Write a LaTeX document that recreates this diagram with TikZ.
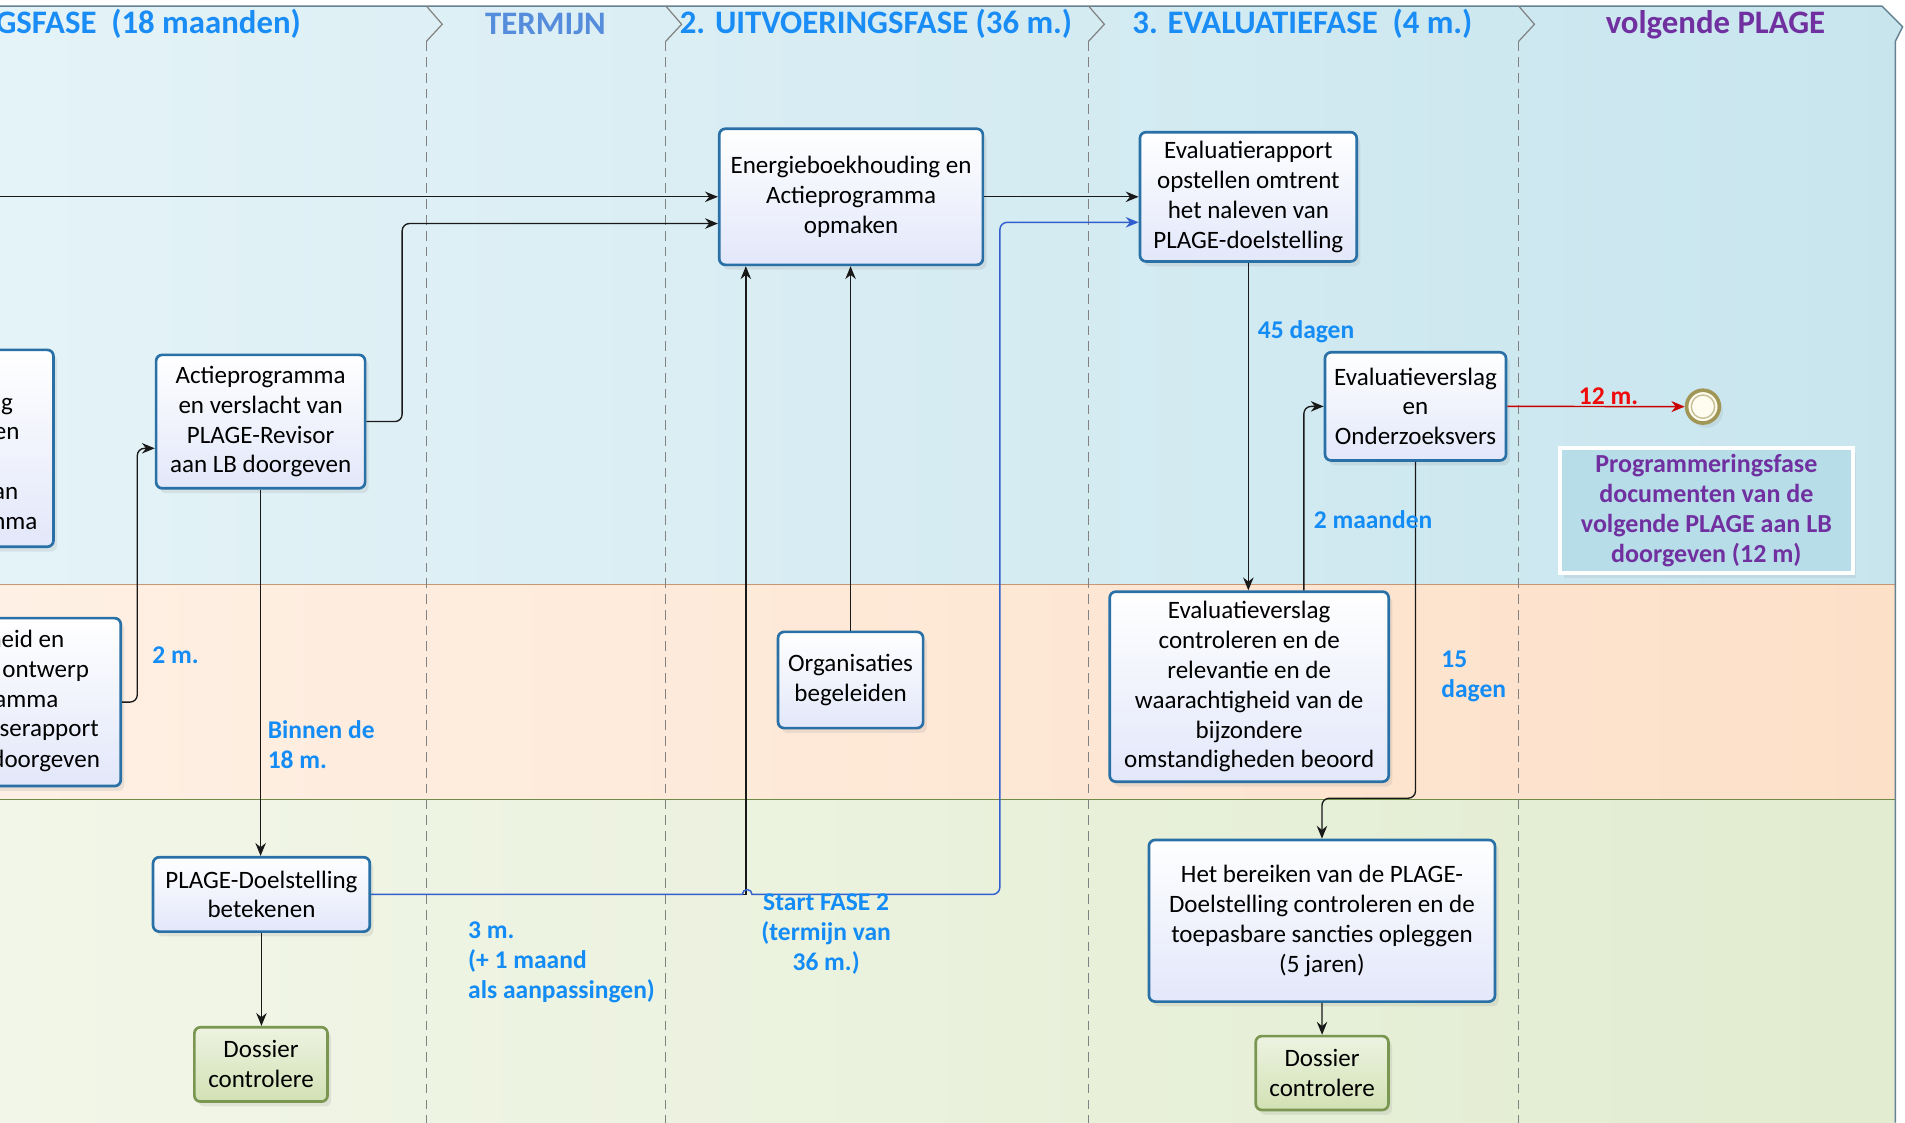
\documentclass[tikz,border=0pt]{standalone}
\usepackage{fontspec}
\setmainfont{Carlito}
\usetikzlibrary{arrows.meta,shadows,calc}
\definecolor{hdrblue}{RGB}{25,140,245}
\definecolor{termblue}{RGB}{85,140,220}
\definecolor{purp}{RGB}{112,48,160}
\definecolor{lblblue}{RGB}{20,140,245}
\definecolor{boxblue}{RGB}{40,112,165}
\definecolor{boxlav}{RGB}{226,231,250}
\definecolor{grnbd}{RGB}{122,150,80}
\definecolor{grnfill}{RGB}{210,225,180}
\definecolor{lnblueL}{RGB}{228,243,247}
\definecolor{lnblueR}{RGB}{200,229,238}
\definecolor{lnorL}{RGB}{254,240,228}
\definecolor{lnorR}{RGB}{253,224,200}
\definecolor{lngrL}{RGB}{242,246,232}
\definecolor{lngrR}{RGB}{225,236,208}
\definecolor{sepor}{RGB}{200,150,115}
\definecolor{sepgr}{RGB}{110,140,70}
\definecolor{sepgray}{RGB}{130,130,130}
\definecolor{bordc}{RGB}{100,130,145}
\definecolor{connblue}{RGB}{50,95,205}
\definecolor{evred}{RGB}{200,0,0}
\definecolor{lblred}{RGB}{240,10,10}
\definecolor{annfill}{RGB}{183,221,232}
\definecolor{ringc}{RGB}{160,150,85}
\definecolor{ivory}{RGB}{255,252,240}
\newcommand\bxf{\fontsize{10.3}{12.3}\selectfont}
\newcommand\lblf{\fontsize{10.5}{12.35}\selectfont\bfseries}
\newcommand\hdrf{\fontsize{13.5}{16}\selectfont\bfseries}
\tikzset{
  procbox/.style={draw=boxblue, line width=1.1pt, rounded corners=2.5pt,
    top color=white, bottom color=boxlav, align=center, font=\bxf, inner sep=1pt,
    drop shadow={opacity=0.15, shadow xshift=1.5pt, shadow yshift=-2pt}},
  grnbox/.style={draw=grnbd, line width=1.1pt, rounded corners=2.5pt,
    top color=white!60!grnfill, bottom color=grnfill, align=center, font=\bxf, inner sep=1pt,
    drop shadow={opacity=0.15, shadow xshift=1.5pt, shadow yshift=-2pt}},
  frag/.style={font=\bxf, inner sep=0pt, anchor=east, text height=7pt, text depth=2.2pt},
  lbl/.style={font=\lblf, text=lblblue, inner sep=0pt, align=left},
  hdr/.style={font=\hdrf, text=hdrblue, inner sep=0pt},
  conn/.style={line width=0.55pt, draw=black!90},
  arr/.style={-{Stealth[length=5.3pt,width=4.3pt]}},
}
\begin{document}
\begin{tikzpicture}[x=0.5pt,y=-0.5pt]
\useasboundingbox (0,0) rectangle (1568,924);
\fill[white] (0,0) rectangle (1568,924);
% lanes
\shade[left color=lnblueL,right color=lnblueR] (0,5) -- (1549,5) -- (1566,22) -- (1560,34) -- (1560,481) -- (0,481) -- cycle;
\shade[left color=lnorL,right color=lnorR] (0,481) rectangle (1560,658);
\shade[left color=lngrL,right color=lngrR] (0,658) rectangle (1560,924);
\draw[sepor, line width=0.7pt] (0,481) -- (1560,481);
\draw[sepgr, line width=0.6pt] (0,658) -- (1560,658);
\draw[bordc, line width=0.6pt] (0,5) -- (1549,5) -- (1566,22) -- (1560,34) -- (1560,924);
% phase separators
\foreach \x in {351,548,896,1250}{
  \draw[sepgray, line width=0.5pt] (\x,5) -- (\x+13,20) -- (\x,34);
  \draw[sepgray, line width=0.5pt, dash pattern=on 4pt off 2.5pt] (\x,34) -- (\x,924);
}
% headers
\node[hdr, anchor=east] (hd1) at (248,20) {GSFASE\hspace{0.45em}(18 maanden)};
\node[hdr, text=termblue] (hd2) at (449,20) {TERMIJN};
\node[hdr] (hd3) at (721,20) {2. UITVOERINGSFASE (36 m.)};
\node[hdr] (hd4) at (1072,20) {3. EVALUATIEFASE\hspace{0.45em}(4 m.)};
\node[hdr, text=purp] (hd5) at (1412,20) {volgende PLAGE};
% boxes
\node[procbox, minimum width=108.5pt, minimum height=56pt] (A) at (700.5,162) {Energieboekhouding en\\Actieprogramma\\opmaken};
\node[procbox, minimum width=89.2pt, minimum height=53.2pt] (B) at (1027.5,162) {Evaluatierapport\\opstellen omtrent\\het naleven van\\PLAGE-doelstelling};
\node[procbox, minimum width=86pt, minimum height=54.9pt] (C) at (214.5,347) {Actieprogramma\\en verslacht van\\PLAGE-Revisor\\aan LB doorgeven};
\node[procbox, minimum width=72pt, minimum height=81pt] (D) at (-28,369) {};
\node[frag] (d1) at (11,333) {g};
\node[frag] (d2) at (16.5,357) {en};
\node[frag] (d3) at (15.4,406) {an};
\node[frag] (d4) at (31.2,431) {nma};
\node[procbox, minimum width=74.5pt, minimum height=44.5pt] (E) at (1165.1,334.5) {Evaluatieverslag\\en\\Onderzoeksvers};
\node[procbox, minimum width=114.8pt, minimum height=78.2pt] (F) at (1028.2,565.2) {Evaluatieverslag\\controleren en de\\relevantie en de\\waarachtigheid van de\\bijzondere\\omstandigheden beoord};
\node[procbox, minimum width=59.7pt, minimum height=39.6pt] (G) at (700.1,559.7) {Organisaties\\begeleiden};
\node[procbox, minimum width=99.8pt, minimum height=69.1pt] (H) at (-0.4,577.9) {};
\node[frag] (h1) at (53.3,528) {heid en};
\node[frag] (h2) at (73.6,553) {ontwerp};
\node[frag] (h3) at (48.5,577.5) {amma};
\node[frag] (h4) at (81.6,601.6) {rserapport};
\node[frag] (h5) at (82.6,627) {doorgeven};
\node[procbox, minimum width=89.2pt, minimum height=30.6pt] (I) at (215.2,736.2) {PLAGE-Doelstelling\\betekenen};
\node[grnbox, minimum width=54.8pt, minimum height=30.6pt] (J) at (214.8,876.1) {Dossier\\controlere};
\node[procbox, minimum width=142.4pt, minimum height=66.5pt] (K) at (1088.1,757.9) {Het bereiken van de PLAGE-\\Doelstelling controleren en de\\toepasbare sancties opleggen\\(5 jaren)};
\node[grnbox, minimum width=54.6pt, minimum height=30.4pt] (L) at (1088.2,883.2) {Dossier\\controlere};
% end event
\node[circle, draw=ringc, line width=1.5pt, fill=ivory, minimum size=13.5pt, inner sep=0pt,
  drop shadow={opacity=0.12, shadow xshift=1.5pt, shadow yshift=-2pt}] (endev) at (1401.7,334.7) {};
\node[circle, draw=ringc!60, line width=0.6pt, minimum size=9.6pt, inner sep=0pt] (endin) at (endev.center) {};
% annotation
\node[draw=white, line width=1.8pt, fill=annfill, minimum width=120.5pt, minimum height=51.5pt,
  font=\fontsize{10.7}{12.35}\selectfont\bfseries, text=purp, align=center, inner sep=1pt,
  drop shadow={opacity=0.12, shadow xshift=1.5pt, shadow yshift=-2pt}] (note) at (1404.5,420)
  {Programmeringsfase\\documenten van de\\volgende PLAGE aan LB\\doorgeven (12 m)};
% coordinates
\coordinate (le1) at (0,162);
\coordinate (c2) at (331,184);
\coordinate (hc) at (113,369);
\coordinate (aIn1) at ($(A.south west)+(23,0)$);
\coordinate (hopL) at (611,736.2);
\coordinate (bcorn) at (823,736.2);
\coordinate (btop) at (823,183);
\coordinate (f1) at ($(F.north)+(45,0)$);
\coordinate (e1) at (1165.1,657);
% connectors
\draw[conn,arr] (le1) -- (A.west);
\draw[conn,arr,rounded corners=3pt] (C.east) -| (c2) -- (c2 -| A.west);
\draw[conn,arr] (A.east) -- (B.west);
\draw[conn,arr] (G.north) -- (G.north |- A.south);
\draw[conn,arr] (I.east) -| (aIn1);
\draw[line width=0.6pt, connblue, arr] (I.east) -- (hopL) arc[start angle=180, end angle=360, radius=4]
  [rounded corners=3pt] -- (bcorn) -- (btop) -- (btop -| B.west);
\draw[conn,arr] (C.south) -- (C.south |- I.north);
\draw[conn,arr] (I.south) -- (I.south |- J.north);
\draw[conn,arr,rounded corners=3pt] (H.east) -| (hc) -- (hc -| C.west);
\draw[conn,arr] (B.south) -- (B.south |- F.north);
\draw[conn,arr,rounded corners=3pt] (f1) |- (E.west);
\draw[conn,arr,rounded corners=3pt] (E.south) -- (e1) -| (K.north);
\draw[conn,arr] (K.south) -- (L.north);
\draw[line width=0.6pt, evred, -{Stealth[length=5.5pt,width=4.5pt]}] (E.east) -- (endev.west);
% labels
\node[lbl, anchor=west] (l45) at (1035,273) {45 dagen};
\node[lbl, anchor=west] (l2md) at (1081,428) {2 maanden};
\node[lbl, anchor=west] (l15) at (1186,557) {15\\dagen};
\node[lbl, anchor=west] (l2m) at (125,539) {2 m.};
\node[lbl, anchor=west] (lbin) at (220,613) {Binnen de\\18 m.};
\node[lbl, anchor=west] (l3m) at (385,792) {3 m.\\(+ 1 maand\\als aanpassingen)};
\node[lbl, align=center] (lstart) at (680,769) {Start FASE 2\\(termijn van\\36 m.)};
\node[lbl, text=lblred] (l12) at (1324,326) {12 m.};
\end{tikzpicture}
\end{document}
